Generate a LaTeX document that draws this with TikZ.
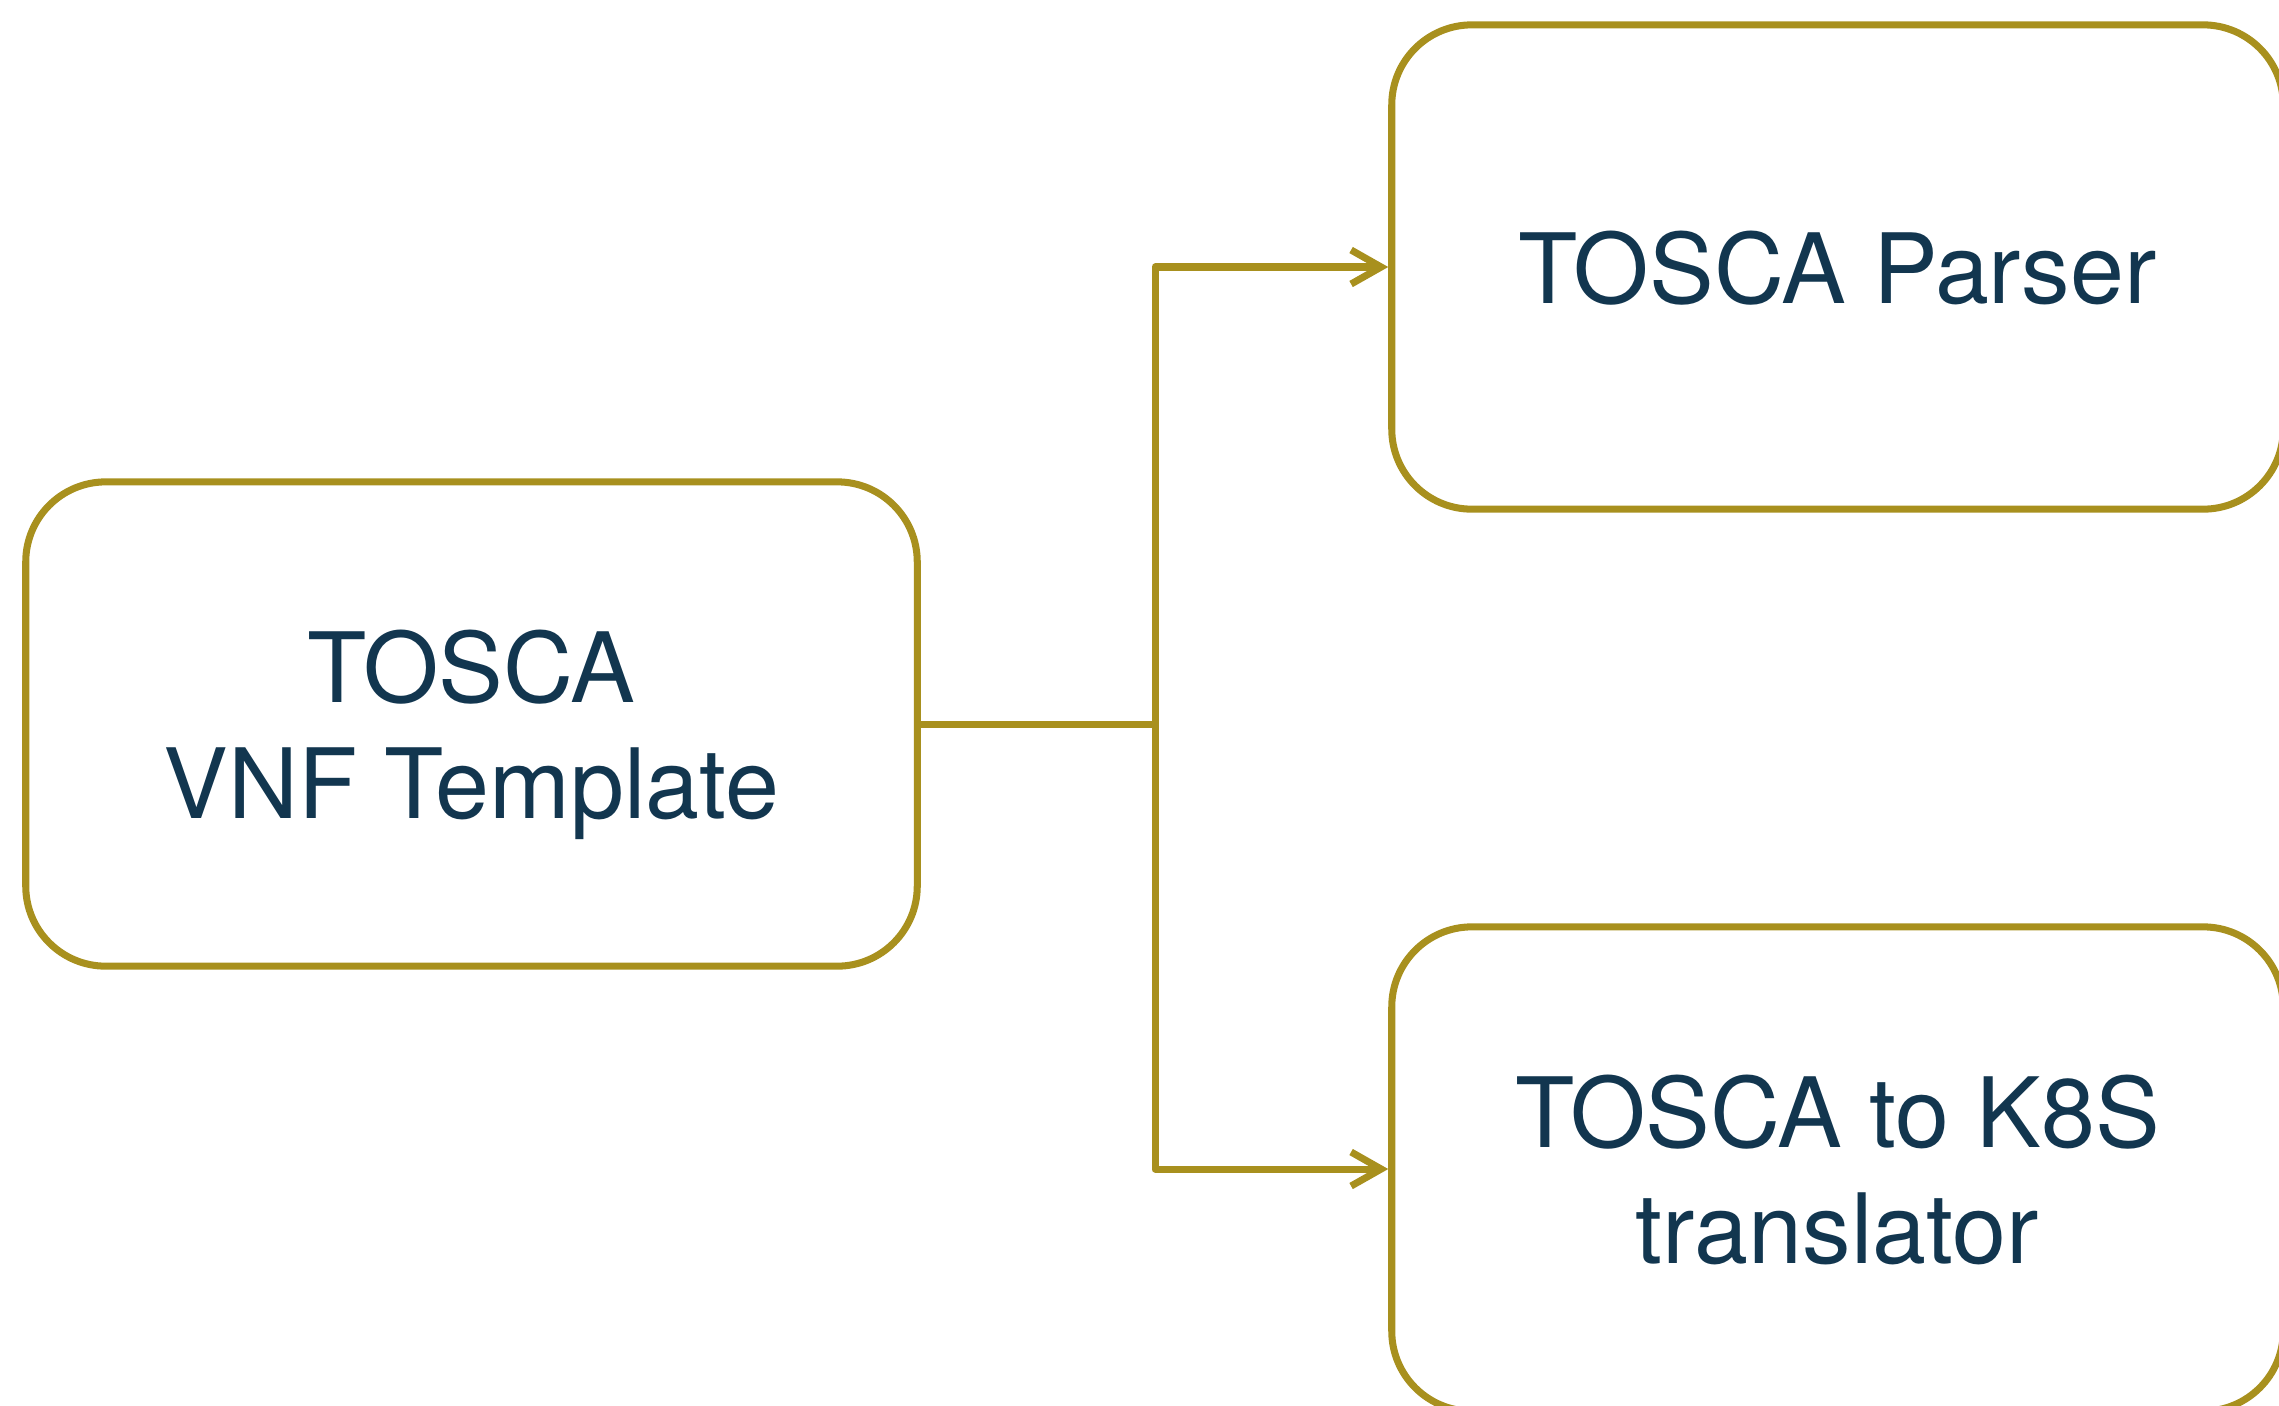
\documentclass[tikz,border=0pt]{standalone}
\usepackage{fontspec}
\setmainfont{TeX Gyre Heros}
\usetikzlibrary{arrows.meta}
\definecolor{gold}{HTML}{A8901E}
\definecolor{navy}{HTML}{12364F}
\begin{document}
\begin{tikzpicture}[x=0.01cm,y=-0.01cm,
  box/.style={draw=gold, line width=2pt, rounded corners=0.8cm,
    minimum width=8.91cm, minimum height=4.84cm, inner sep=0pt,
    text=navy, align=center, text depth=-0.24cm,
    font=\fontsize{27.6pt}{33pt}\selectfont},
  link/.style={draw=gold, line width=2pt, line join=round},
  tip/.style={-{Straight Barb[length=3mm,width=3.4mm,line width=2pt]}}]
\useasboundingbox (0,0) rectangle (2279,1405);

% boxes
\node[box] (tpl) at (471.5,724) {TOSCA\\VNF Template};
\node[box] (parser) at (1837.5,267) {TOSCA Parser};
\node[box] (trans) at (1837.5,1169) {TOSCA to K8S\\translator};

% branching connector
\coordinate (fork) at (1155,724);
\draw[link] (tpl.east) -- (fork);
\draw[link, tip] (fork) |- (parser.west);
\draw[link, tip] (fork) |- (trans.west);
\end{tikzpicture}
\end{document}
